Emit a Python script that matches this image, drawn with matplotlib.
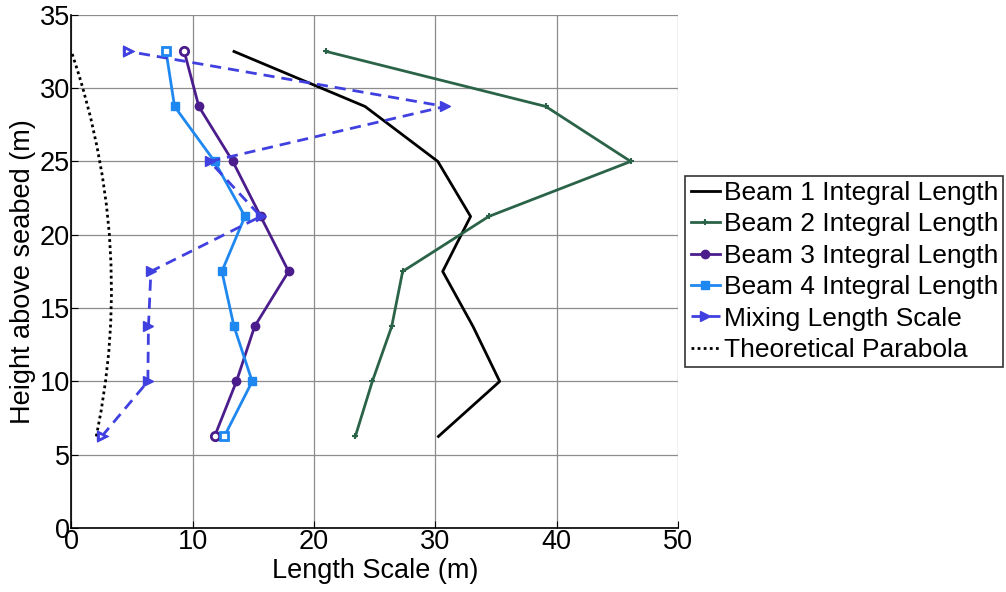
import numpy as np
import matplotlib.pyplot as plt

plt.rcParams['font.family'] = ['Liberation Sans', 'DejaVu Sans']

heights = [6.25, 10.0, 13.75, 17.5, 21.25, 25.0, 28.75, 32.5]
beam1 = [30.25, 35.3, 33.1, 30.6, 32.9, 30.2, 24.2, 13.4]
beam2 = [23.4, 24.8, 26.4, 27.3, 34.4, 46.1, 39.1, 21.0]
beam3 = [11.8, 13.6, 15.1, 17.9, 15.6, 13.3, 10.5, 9.3]
beam4 = [12.6, 14.9, 13.4, 12.4, 14.3, 11.8, 8.5, 7.8]
mixing = [2.5, 6.3, 6.35, 6.55, 15.6, 11.4, 30.8, 4.7]

parab_z = [6.25, 8, 10, 12, 14, 16, 18, 20, 22, 24, 26, 28, 30, 31, 32.5]
parab_x = [2.05, 2.45, 2.81, 3.08, 3.24, 3.30, 3.26, 3.13, 2.89, 2.55, 2.11, 1.58, 0.94, 0.58, 0.0]

c_green = '#2b6349'
c_purple = '#4b1d8c'
c_lblue = '#1f88f0'
c_mix = '#4040e0'

fig = plt.figure(figsize=(10.06, 5.92), dpi=100)
ax = fig.add_axes([0.071, 0.108, 0.603, 0.867])

ax.plot(beam1, heights, color='black', lw=2, label='Beam 1 Integral Length')
ax.plot(beam2, heights, color=c_green, lw=2, marker='+', ms=4, mew=1.5,
        label='Beam 2 Integral Length')
ax.plot(beam3, heights, color=c_purple, lw=2, marker='o', ms=6,
        label='Beam 3 Integral Length')
ax.plot(beam4, heights, color=c_lblue, lw=2, marker='s', ms=6,
        label='Beam 4 Integral Length')
ax.plot(mixing, heights, color=c_mix, lw=2, ls=(0, (4, 2.5)), marker='>', ms=7,
        label='Mixing Length Scale')
ax.plot(parab_x, parab_z, color='black', lw=2, ls=(0, (1, 1.2)),
        label='Theoretical Parabola')

# hollow-looking end markers
for xs, col, m in [(beam3, c_purple, 'o'), (beam4, c_lblue, 's'), (mixing, c_mix, '>')]:
    ax.plot([xs[0], xs[-1]], [heights[0], heights[-1]], ls='none', marker=m,
            ms=6, mfc='white', mec=col, mew=2)

ax.set_xlim(0, 50)
ax.set_ylim(0, 35)
ax.set_xticks(np.arange(0, 51, 10))
ax.set_yticks(np.arange(0, 36, 5))
ax.grid(True, color='#8c8c8c', lw=0.9)
ax.set_axisbelow(True)
for s in ['top', 'right']:
    ax.spines[s].set_visible(False)
ax.spines['left'].set_linewidth(1.2)
ax.spines['bottom'].set_linewidth(1.2)
ax.tick_params(direction='in', length=5, labelsize=19.5, pad=1)
ax.set_xlabel('Length Scale (m)', fontsize=19.5, labelpad=2)
ax.set_ylabel('Height above seabed (m)', fontsize=19.5, labelpad=3)

leg = ax.legend(loc='center left', bbox_to_anchor=(1.012, 0.5), fontsize=19,
                frameon=True, fancybox=False, edgecolor='black', handlelength=1.1,
                handletextpad=0.15, labelspacing=0.28, borderpad=0.2, borderaxespad=0)
leg.get_frame().set_linewidth(1.2)

fig.savefig('out.png', dpi=100)
